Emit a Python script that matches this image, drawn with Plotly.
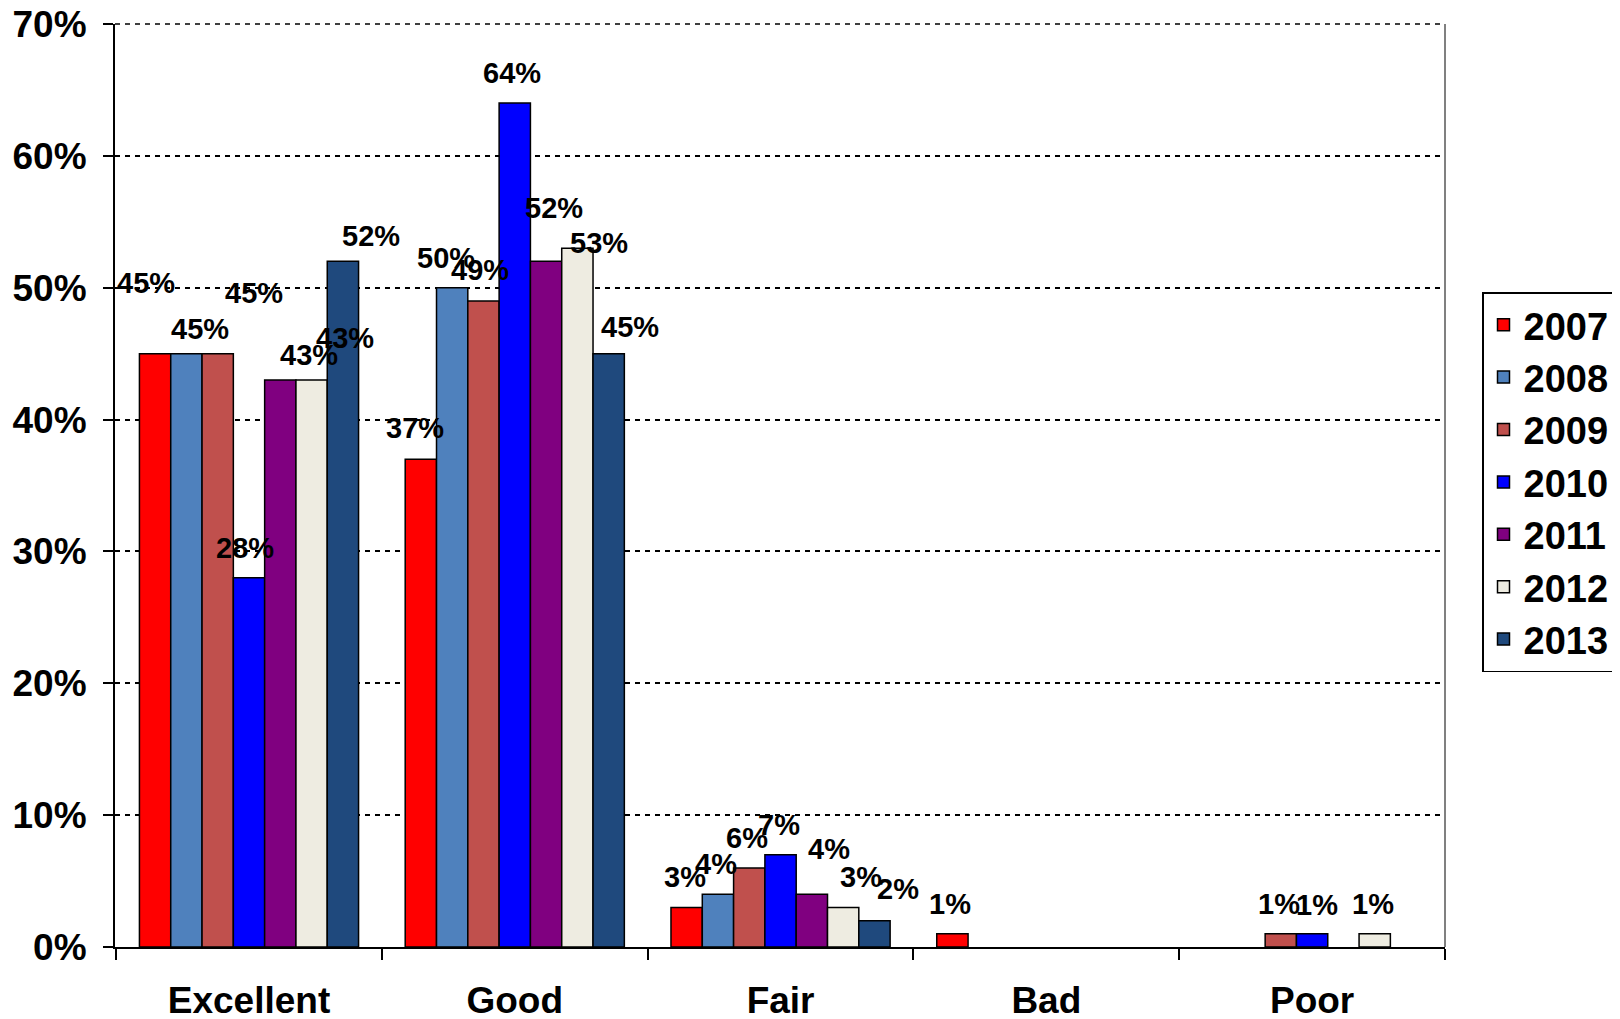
import plotly.graph_objects as go

categories = ["Excellent", "Good", "Fair", "Bad", "Poor"]
years = ["2007", "2008", "2009", "2010", "2011", "2012", "2013"]

v2007 = [45, 37, 3, 1, None]
v2008 = [45, 50, 4, None, None]
v2009 = [45, 49, 6, None, 1]
v2010 = [28, 64, 7, None, 1]
v2011 = [43, 52, 4, None, None]
v2012 = [43, 53, 3, None, 1]
v2013 = [52, 45, 2, None, None]
series = [v2007, v2008, v2009, v2010, v2011, v2012, v2013]

colors = ["#FF0000", "#4F81BD", "#C0504D", "#0000FF", "#800080", "#EEECE1", "#1F497D"]

y_ticks = [0, 10, 20, 30, 40, 50, 60, 70]

# label offsets in pixels (dx from bar centre, dy above bar top) - style only
default_off = (-2, 30)
label_off = {
    (0, 0): (-9, 71), (0, 1): (14, 25), (0, 2): (36, 61), (0, 3): (-4, 30),
    (0, 4): (29, 25), (0, 5): (33, 42), (0, 6): (28, 25),
    (1, 0): (-6, 31), (1, 1): (-6, 30), (1, 2): (-3, 31), (1, 3): (-3, 30),
    (1, 4): (8, 53), (1, 5): (22, 5), (1, 6): (21, 27),
    (2, 4): (17, 45), (2, 5): (18, 30), (2, 6): (23, 32),
    (4, 3): (5, 29),
}

# page body has an 8px margin; figure is offset by it
OFF = 8
W, H = 1620, 1019
ML, MR, MT, MB = 115 - OFF, 175 + OFF, 24 - OFF, 72 + OFF
bargap = 0.1755
plot_w = W - ML - MR
plot_h = H - MT - MB
cat_w = plot_w / len(categories)
bar_w = cat_w * (1 - bargap) / len(years)

FONT = "Liberation Sans, Arial, sans-serif"

fig = go.Figure()
for i, (yr, vals) in enumerate(zip(years, series)):
    fig.add_trace(go.Bar(
        name=yr, x=categories, y=vals,
        marker=dict(color=colors[i], line=dict(color="black", width=1.5)),
    ))

annotations = []
for i, vals in enumerate(series):
    for j, v in enumerate(vals):
        if v is None:
            continue
        dx, dy = label_off.get((j, i), default_off)
        annotations.append(dict(
            x=categories[j], y=v, xref="x", yref="y",
            xshift=(i - 3) * bar_w + dx, yshift=dy,
            text=f"{v}%", showarrow=False,
            xanchor="center", yanchor="middle",
            font=dict(family=FONT, size=29, color="black", weight="bold"),
        ))

fig.update_layout(
    width=W, height=H,
    margin=dict(l=ML, r=MR, t=MT, b=MB, autoexpand=False),
    paper_bgcolor="white", plot_bgcolor="white",
    barmode="group", bargap=bargap, bargroupgap=0,
    font=dict(family=FONT, color="black"),
    annotations=annotations,
    showlegend=True,
    legend=dict(
        x=(1482 - 115) / plot_w, y=(947 - 292) / plot_h,
        xanchor="left", yanchor="top",
        bordercolor="black", borderwidth=1.5, bgcolor="white",
        font=dict(family=FONT, size=38, color="black", weight="bold"),
        itemwidth=30, tracegroupgap=0,
    ),
    shapes=[
        dict(type="line", xref="paper", yref="paper", x0=1, x1=1, y0=0, y1=1,
             line=dict(color="#808080", width=2)),
        dict(type="line", xref="paper", yref="paper", x0=0, x1=1, y0=1, y1=1,
             line=dict(color="black", width=1.5, dash="5px,5px")),
    ],
)

fig.update_xaxes(
    type="category", showline=True, linecolor="black", linewidth=2,
    ticks="outside", tickson="boundaries", ticklen=11, tickcolor="black", tickwidth=1.5,
    tickfont=dict(family=FONT, size=37, color="black", weight="bold"),
    ticklabelstandoff=20, showgrid=False, automargin=False,
)
fig.update_yaxes(
    range=[0, 70], tickvals=y_ticks, ticktext=[f"{t}%" for t in y_ticks],
    showline=True, linecolor="black", linewidth=2,
    ticks="outside", ticklen=10, tickcolor="black", tickwidth=1.5,
    tickfont=dict(family=FONT, size=37, color="black", weight="bold"),
    ticklabelstandoff=9, ticklabeloverflow="allow",
    showgrid=True, gridcolor="black", gridwidth=1.5, griddash="5px,5px",
    zeroline=False, automargin=False,
)

fig.write_html("out.html")
